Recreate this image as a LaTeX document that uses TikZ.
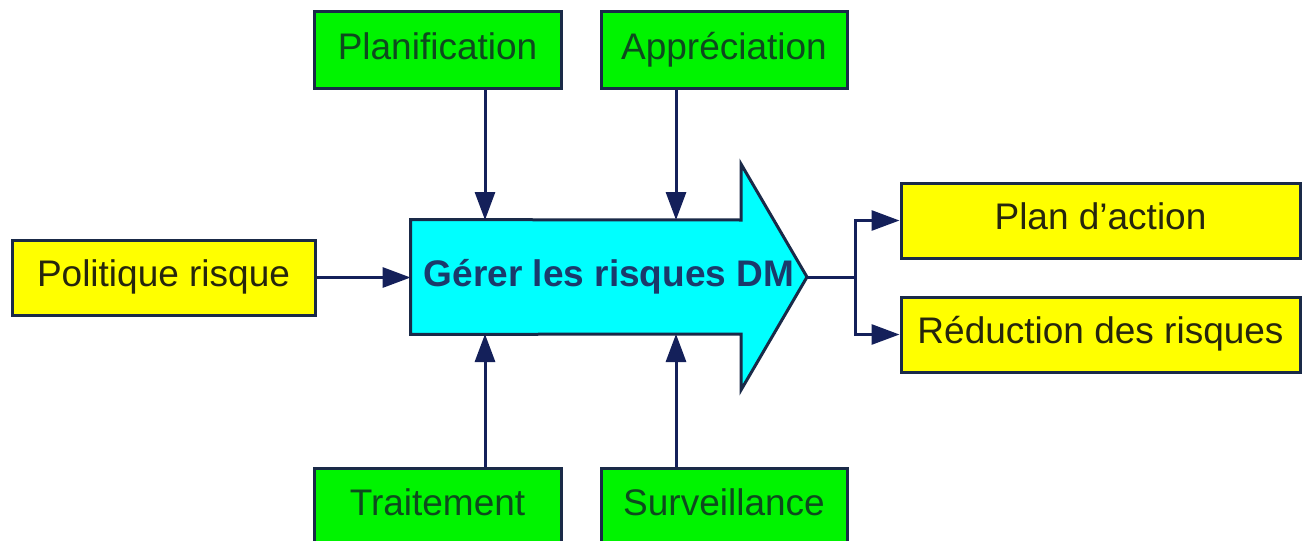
\documentclass[tikz,border=0pt]{standalone}
\usepackage{fontspec}
\setmainfont{Liberation Sans}
\usetikzlibrary{arrows.meta}
\definecolor{linecol}{HTML}{14205A}
\definecolor{bordercol}{HTML}{1A2A48}
\definecolor{boxgreen}{HTML}{00F400}
\definecolor{boxyellow}{HTML}{FFFF00}
\definecolor{boxcyan}{HTML}{00FFFF}
\definecolor{greentext}{HTML}{0E4A1E}
\definecolor{yellowtext}{HTML}{26260D}
\definecolor{maintext}{HTML}{1B3A6B}
\begin{document}
\begin{tikzpicture}[x=0.5pt,y=-0.5pt,
  box/.style={draw=bordercol, line width=1.5pt, inner sep=0pt,
    font=\fontsize{18.5}{22}\selectfont, text height=13.3pt, text depth=3.9pt},
  greenbox/.style={box, fill=boxgreen, text=greentext, minimum height=38.5pt},
  yellowbox/.style={box, fill=boxyellow, text=yellowtext, minimum height=37.5pt},
  arr/.style={draw=linecol, line width=1.5pt, -{Triangle[length=14pt,width=10pt]}},
  conn/.style={draw=linecol, line width=1.5pt}]
\useasboundingbox (0,0) rectangle (1304,540);
\fill[white] (0,0) rectangle (1304,540);
\clip (0,0) rectangle (1304,540);

% big arrow
\node[minimum width=165pt, minimum height=57pt, inner sep=0pt] (body) at (576,277) {};
\coordinate (tip) at (807,277);
\filldraw[fill=boxcyan, draw=bordercol, line width=1.5pt, line join=miter]
  (body.north west) -- (741,220) -- (741,164) -- (tip) -- (741,390) -- (741,334) -- (body.south west) -- cycle;
\node[font=\fontsize{18.5}{22}\selectfont\bfseries, text=maintext, inner sep=0pt] (gerer) at (609,277) {Gérer les risques DM};

% boxes
\node[greenbox, minimum width=123.5pt] (plan) at (437.5,50.5) {Planification};
\node[greenbox, minimum width=123pt] (appr) at (724,50.5) {Appréciation};
\node[greenbox, minimum width=123.5pt] (trait) at (437.5,506.5) {Traitement};
\node[greenbox, minimum width=123pt] (surv) at (724,506.5) {Surveillance};
\node[yellowbox, minimum width=151.5pt] (pol) at (163.5,277.5) {Politique risque};
\node[yellowbox, minimum width=199.5pt] (pa) at (1100.5,220.5) {Plan d’action};
\node[yellowbox, minimum width=199.5pt] (rd) at (1100.5,334.5) {Réduction des risques};

% connector targets
\coordinate (in1) at (485,220);
\coordinate (in2) at (676,220);
\coordinate (in3) at (485,334);
\coordinate (in4) at (676,334);
\coordinate (j) at (855,277);

\draw[arr] (plan.south -| in1) -- (in1);
\draw[arr] (appr.south -| in2) -- (in2);
\draw[arr] (trait.north -| in3) -- (in3);
\draw[arr] (surv.north -| in4) -- (in4);
\draw[arr] (pol.east) -- (body.west |- pol.east);
\draw[conn] (tip) -- (j);
\draw[arr] (j) |- (pa.west);
\draw[arr] (j) |- (rd.west);
\end{tikzpicture}
\end{document}
